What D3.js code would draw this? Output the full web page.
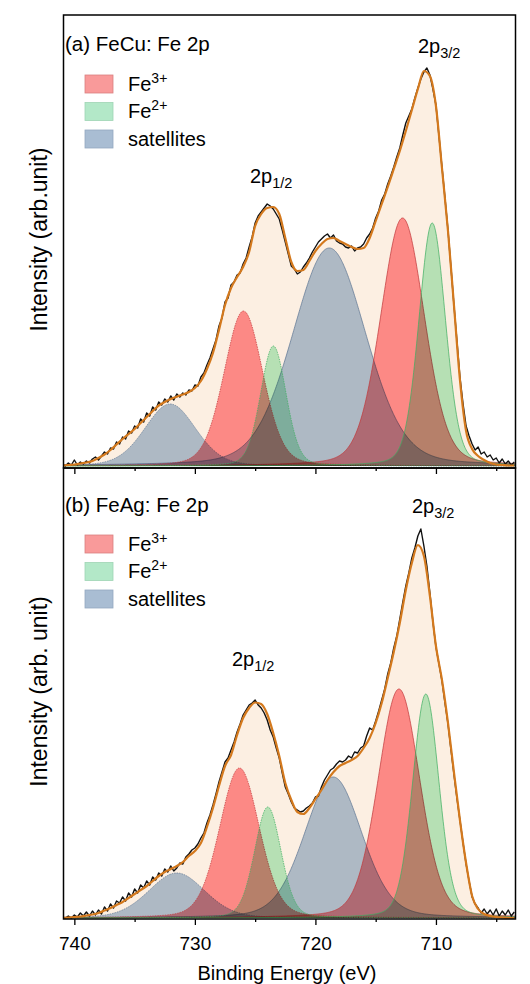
<!DOCTYPE html>
<html><head><meta charset="utf-8">
<script src="https://cdn.jsdelivr.net/npm/d3@7"></script>
<style>
body{margin:0;background:#fff;}
svg text{font-family:Arial,"Liberation Sans",sans-serif;fill:#000;}
</style></head><body>
<svg id="chart" width="530" height="984"></svg>
<script>
// ---------------- data ----------------
const panelTitles = ["(a) FeCu: Fe 2p", "(b) FeAg: Fe 2p"];
const yLabels = ["Intensity (arb.unit)", "Intensity (arb. unit)"];
const legendLabels = [["Fe", "3+"], ["Fe", "2+"], ["satellites", ""]];
const xTicksMajor = [740, 730, 720, 710];
const xTicksMinor = [735, 725, 715, 705];
const xTitle = "Binding Energy (eV)";
const startEnergy = 741, envStep = 0.5, dataStep = 0.25;

// fitted components: [centre (eV), height, FWHM (eV)]
const fe3A = [[712.77, 248, 4.3], [725.97, 155, 3.8]];
const fe2A = [[710.31, 243, 2.6], [723.49, 120, 2.5]];
const satA = [[718.85, 218, 7.2], [732.05, 62, 5.0]];
const fe3B = [[713.07, 229, 4.1], [726.3, 150, 3.9]];
const fe2B = [[710.84, 224, 2.6], [723.95, 111, 2.6]];
const satB = [[718.52, 141, 5.6], [731.5, 45, 5.5]];

// fit envelopes, 741 -> 703.5 eV, 0.5 eV step
const envA = [0.5,1,1.5,2.5,3.5,5,8,11.5,16,21.5,27,32,37,43,49,55,60.5,64,67,69.3,71.5,74,78,85,97,113,136,161,178,189,199,214,240,252,258,259,252,228,204,195,196,205,215,222,227,228,225,222,219,217,218,228,245,262,279,297,315,335,356,377,395,390,360,298,235,160,85,35,17,10,6,3,1.5,1,0.5,0.5];
const envB = [0,0.5,1,1.5,2.5,3.5,5,7.5,10,13,16,20,24,28,32,37,42,46,49,52,56,62,67,75,91,110,132,152,163,183,200,210,215.5,214,204,185,162,135,118,106,104,110,119,128,138,146,152,155,158,162,170,180,195,215,240,266,295,328,355,373,362,322,272,238,195,145,97,55,22,9,4,2,1,0.5,0,0];

// measured spectra, 741 -> 703.5 eV, 0.25 eV step
const dataA = [2,0,3,1,6,1,4,2,5,3,7,9,6,10,14,12,18,17,24,22,29,27,35,33,40,38,47,44,53,50,59,56,64,61,67,64,70,66,72,69,73,71,76,75,81,80,89,93,101,108,117,126,140,148,164,168,181,184,191,193,202,208,219,229,243,250,254,258,262,260,257,252,247,236,224,212,200,197,192,194,199,203,208,214,219,224,227,230,232,228,231,225,223,222,219,218,220,215,218,219,222,228,232,238,248,255,266,272,282,290,299,309,318,331,343,350,357,368,378,387,394,398,391,377,361,330,299,268,236,198,160,124,88,62,40,30,22,16,19,12,14,9,11,6,8,3,7,2,5,1,4];
const dataB = [1,0,2,0,3,1,5,2,6,2,7,3,8,4,11,7,14,10,17,15,21,17,25,21,29,25,33,30,37,33,41,38,45,42,49,46,52,47,50,55,54,61,64,68,70,74,80,85,95,103,113,124,136,146,156,160,168,176,186,194,203,208,213,215,218,213,210,205,198,188,181,170,160,145,131,124,116,110,108,106,107,110,112,115,121,122,131,138,143,148,150,154,157,156,158,162,160,166,165,170,172,182,190,188,197,207,218,229,244,255,270,282,299,316,332,345,360,370,382,389,372,352,325,296,271,254,237,215,194,168,143,119,97,75,54,37,21,14,10,5,9,4,8,3,9,2,7,3,8,2,6];

// ---------------- layout ----------------
const svg = d3.select("#chart");
const L = 63.5, R = 515.5;
const x = d3.scaleLinear().domain([740.9, 703.4]).range([L, R]);
const panels = [
  {top: 15, bottom: 468, y: d3.scaleLinear().domain([-2, 451]).range([468, 15]),
   env: envA, data: dataA, fe3: fe3A, fe2: fe2A, sat: satA,
   titleY: 51, legTop: 75, ann: [[418, 53, "3/2"], [250, 183, "1/2"]]},
  {top: 468, bottom: 919, y: d3.scaleLinear().domain([-1, 450]).range([919, 468]),
   env: envB, data: dataB, fe3: fe3B, fe2: fe2B, sat: satB,
   titleY: 511.5, legTop: 535, ann: [[412, 513, "3/2"], [232, 666, "1/2"]]}
];
const ETA = 0.2;
function pv(E, c, h, w) {
  const t = (E - c) / w;
  return h * ((1 - ETA) * Math.exp(-4 * Math.LN2 * t * t) + ETA / (1 + 4 * t * t));
}
const fineE = d3.range(741, 703.35, -0.05);

const styles = {
  sat: {fill: "#b0c6de", stroke: "#5d7592"},
  fe3: {fill: "#ff9296", stroke: "#c0383a"},
  fe2: {fill: "#b8efcb", stroke: "#3fae62"}
};
const legendColors = [["#f99a9a", "#d98080"], ["#b3e8c8", "#9fd4b4"], ["#a9bdd3", "#94a9c0"]];

panels.forEach((p, pi) => {
  const g = svg.append("g");
  const clipId = "clip" + pi;
  svg.append("clipPath").attr("id", clipId).append("rect")
    .attr("x", L).attr("y", p.top).attr("width", R - L).attr("height", p.bottom - p.top);
  const plot = g.append("g").attr("clip-path", `url(#${clipId})`).style("isolation", "isolate");
  const y = p.y;

  const envPts = p.env.map((v, i) => [startEnergy - i * envStep, v]);
  const dataPts = p.data.map((v, i) => [startEnergy - i * dataStep, v]);

  // envelope fill
  plot.append("path").datum(envPts)
    .attr("d", d3.area().x(d => x(d[0])).y0(y(0)).y1(d => y(d[1])).curve(d3.curveMonotoneX))
    .attr("fill", "#fcefe2");

  // components
  ["sat", "fe3", "fe2"].forEach(key => {
    p[key].forEach((c, ci) => {
      const pts = fineE.map(E => [E, pv(E, c[0], c[1], c[2])]);
      plot.append("path").datum(pts)
        .attr("d", d3.area().x(d => x(d[0])).y0(y(0)).y1(d => y(d[1])))
        .attr("fill", styles[key].fill)
        .style("mix-blend-mode", "multiply");
      plot.append("path").datum(pts)
        .attr("d", d3.line().x(d => x(d[0])).y(d => y(d[1])))
        .attr("fill", "none")
        .attr("stroke", styles[key].stroke)
        .attr("stroke-width", 0.9)
        .attr("stroke-opacity", 0.8)
        .attr("stroke-dasharray", ci === 1 ? "1.5,1" : null);
    });
  });

  // measured data
  plot.append("path").datum(dataPts)
    .attr("d", d3.line().x(d => x(d[0])).y(d => y(d[1])))
    .attr("fill", "none").attr("stroke", "#111").attr("stroke-width", 1.4)
    .attr("stroke-linejoin", "round");

  // envelope line
  plot.append("path").datum(envPts)
    .attr("d", d3.line().x(d => x(d[0])).y(d => y(d[1])).curve(d3.curveMonotoneX))
    .attr("fill", "none").attr("stroke", "#d4791d").attr("stroke-width", 2.2);

  // frame
  g.append("rect").attr("x", L).attr("y", p.top).attr("width", R - L).attr("height", p.bottom - p.top)
    .attr("fill", "none").attr("stroke", "#000").attr("stroke-width", 1.5);

  // bottom axis
  const axMaj = d3.axisBottom(x).tickValues(xTicksMajor).tickSize(6).tickPadding(11.5)
    .tickFormat(pi === 1 ? d3.format("d") : () => "");
  const axMin = d3.axisBottom(x).tickValues(xTicksMinor).tickSize(3).tickFormat(() => "");
  [axMaj, axMin].forEach(ax => {
    const a = g.append("g").attr("transform", `translate(0,${p.bottom})`).call(ax);
    a.select(".domain").remove();
    a.selectAll("line").attr("stroke", "#000").attr("stroke-width", 1.3);
    a.selectAll("text").style("font-size", "19px").style("font-family", "Arial, 'Liberation Sans', sans-serif").attr("fill", "#000");
  });

  // y label
  g.append("text").attr("transform", `translate(47,${(p.top + p.bottom) / 2 - 2}) rotate(-90)`)
    .attr("text-anchor", "middle").style("font-size", "23px").text(yLabels[pi]);

  // panel title
  g.append("text").attr("x", 65).attr("y", p.titleY).style("font-size", "20.5px").text(panelTitles[pi]);

  // legend
  legendLabels.forEach((lab, li) => {
    const ty = p.legTop + li * 27.5;
    g.append("rect").attr("x", 85).attr("y", ty).attr("width", 28).attr("height", 18)
      .attr("fill", legendColors[li][0]).attr("stroke", legendColors[li][1]).attr("stroke-width", 0.8);
    const t = g.append("text").attr("x", 128).attr("y", ty + 15.5).style("font-size", "20px");
    t.append("tspan").text(lab[0]);
    if (lab[1]) t.append("tspan").attr("dy", -8).style("font-size", "14px").text(lab[1]);
  });

  // peak annotations
  p.ann.forEach(a => {
    const t = g.append("text").attr("x", a[0]).attr("y", a[1]).style("font-size", "20px");
    t.append("tspan").text("2p");
    t.append("tspan").attr("dy", 5).style("font-size", "14.5px").text(a[2]);
  });
});

// x title
svg.append("text").attr("x", 287).attr("y", 980).attr("text-anchor", "middle")
  .style("font-size", "20px").text(xTitle);
</script>
</body></html>
